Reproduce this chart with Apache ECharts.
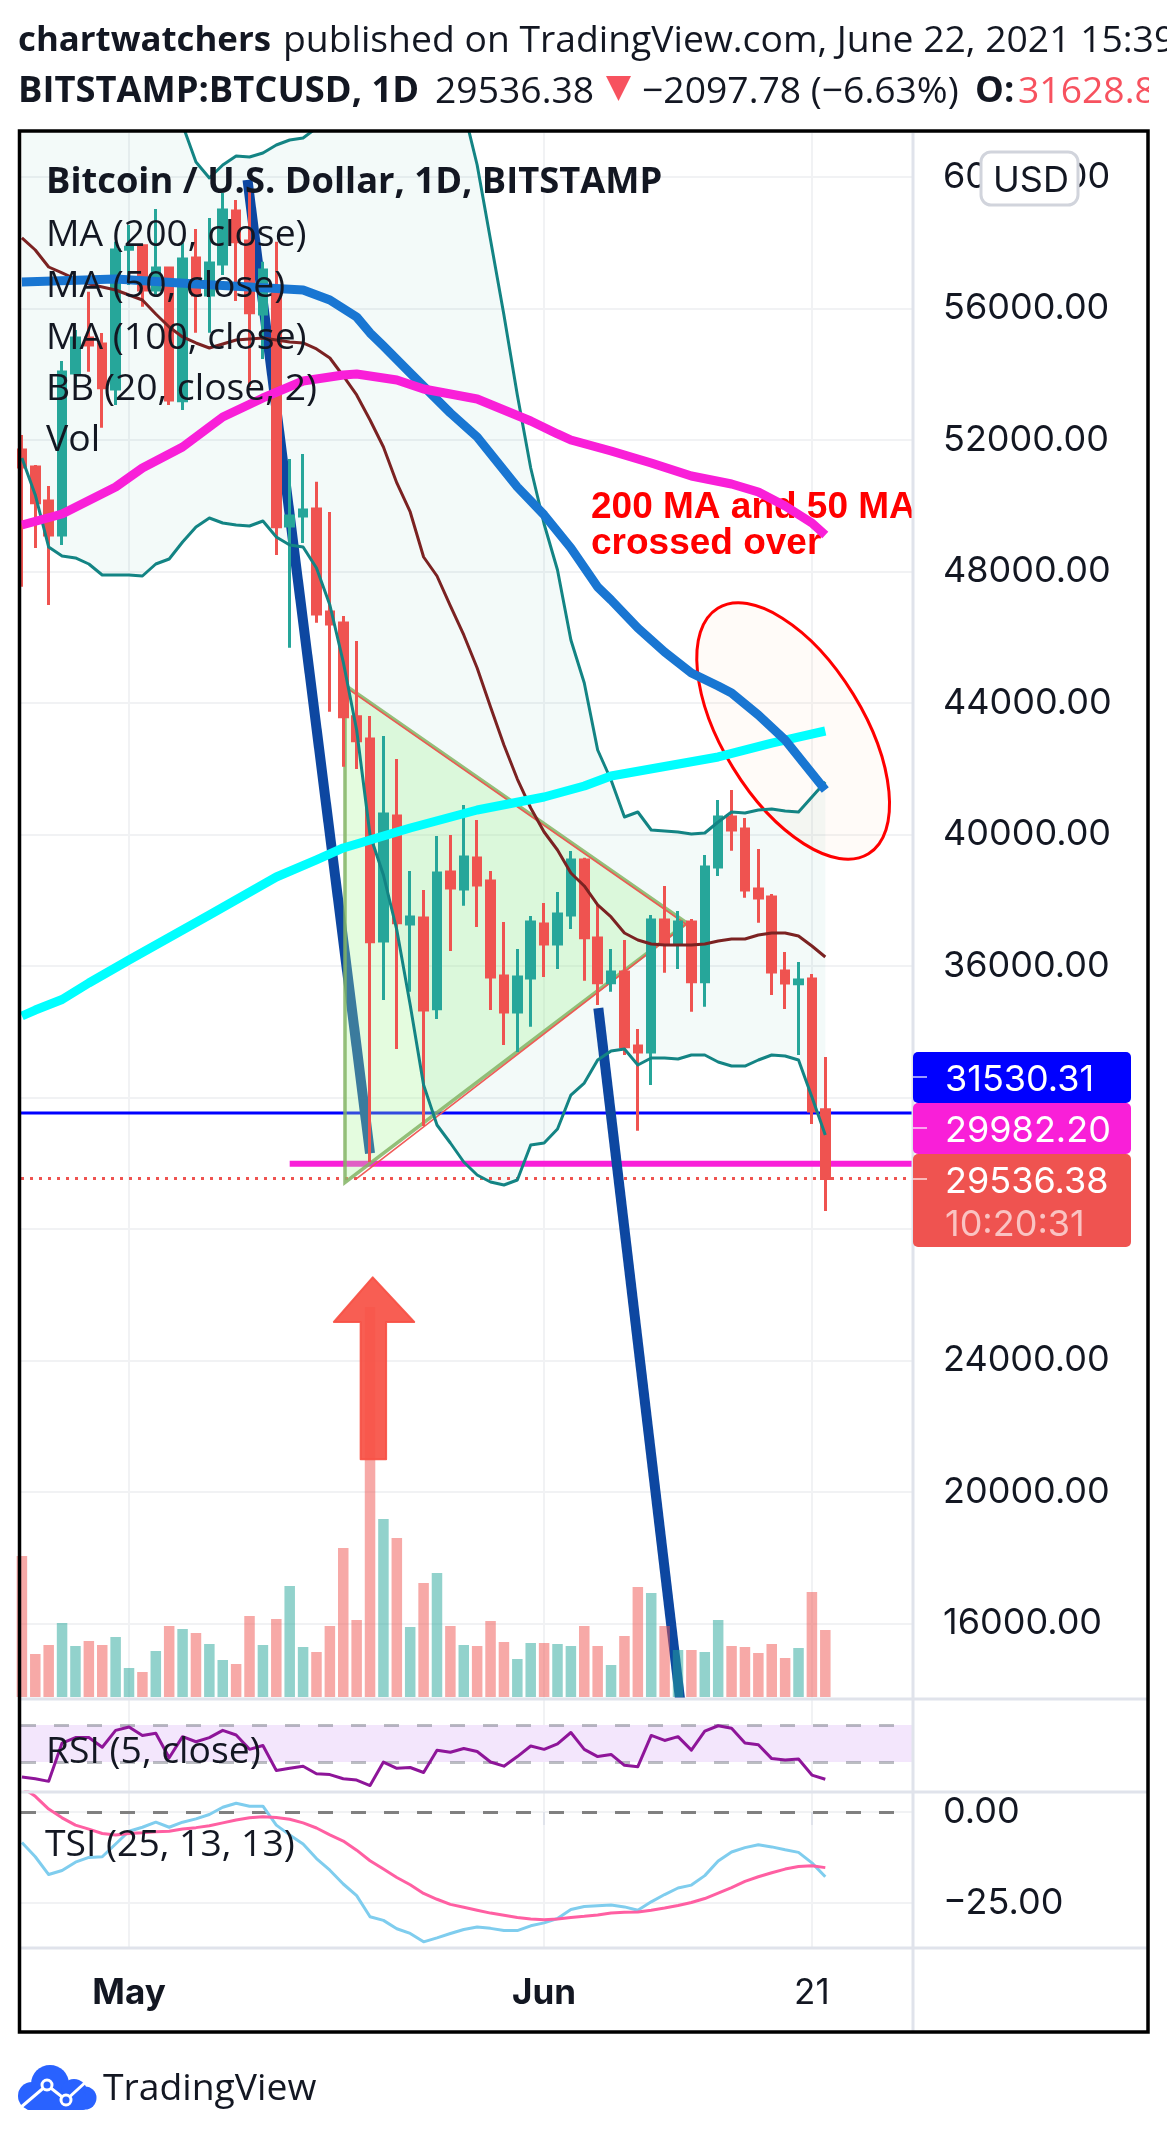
<!DOCTYPE html>
<html>
<head>
<meta charset="utf-8">
<style>html,body{margin:0;padding:0;background:#fff}#c{width:1167px;height:2142px}</style>
<script src="https://cdn.jsdelivr.net/npm/echarts@6/dist/echarts.min.js"></script>
</head>
<body>
<div id="c"></div>
<script>
// Trading days are numbered from Apr 23 2021 (day 0) to Jun 22 2021 (day 60)
const xTickDays = [8, 39, 59];
const xTickLabels = {8: '{b|May}', 39: '{b|Jun}', 59: '21'};
const priceTicks = [16000,20000,24000,28000,32000,36000,40000,44000,48000,52000,56000,60000];
const tsiTicks = [0, -25];

const opens = [51696,51179,50145,49110,54038,55103,54920,53551,57801,57910,
  56563,57232,53196,57536,56411,57354,58966,58053,55833,56593,
  49384,49688,49901,46768,46434,43584,42905,36761,40563,37278,
  37460,34701,38860,38342,39285,38586,35696,34601,35635,37278,
  36669,37552,39225,36852,35492,35818,33567,33384,37399,36700,
  37339,35523,39012,40532,40167,38342,38099,35848,35462,35605,31628.8];
const closes = [51179,50093,49110,54068,55103,54890,53591,57779,57862,56563,
  57232,53217,57506,56411,57384,58996,58032,55872,57171,49363,
  49688,49871,46707,46403,43584,42853,36739,40624,37317,37491,
  34662,38829,38373,39316,38464,35666,34601,35666,37339,36669,
  37582,39225,36861,35492,35818,33546,33384,37399,36669,37339,
  35523,39012,40532,40137,38312,38069,35818,35483,35574,31590,29536.38];
const lows = [47538,48715,46981,48806,53612,54078,52374,53065,56715,56055,
  56359,53065,52913,55264,55264,57019,56228,53621,54464,48502,
  45682,48867,46443,43736,42063,41993,30038,34966,33476,35219,
  31133,34388,36456,37834,37187,34662,33597,33384,34154,35666,
  35909,37126,35553,34814,35219,33293,30990,32380,35796,35909,
  34610,34762,38738,39507,38078,37317,35118,34692,33293,31194,28548];
const highs = [52152,51240,50601,54403,55346,56511,55255,58032,58540,57932,
  59027,57272,57992,58418,58753,59513,59300,59605,57424,58032,
  51422,51574,50732,49810,46647,45886,43605,42996,42297,38890,
  38312,39955,39985,40898,40441,38890,37339,36517,37521,37917,
  38251,39498,39294,37856,36517,36791,34084,37552,38434,37673,
  37430,39377,41050,41354,40502,39559,38190,36426,36122,35757,33232];
const volumes = [141,43,52,74,51,56,52,60,29,25,
  46,71,68,64,53,37,33,81,52,78,
  111,50,45,71,149,77,390,178,159,70,
  114,124,71,52,51,76,55,38,54,54,
  53,51,71,51,32,61,110,104,71,47,
  47,45,77,51,50,44,53,39,49,105,67];

const bbUpper = [62900,63200,63500,63700,63800,63700,63500,63300,63000,62700,
  62300,61900,61582,60456,59970,60365,60639,60608,60730,60973,
  61125,61186,61490,62400,63300,64000,64300,64400,64300,64100,
  63900,63500,62900,62038,60365,58084,55802,53369,51148,49445,
  48046,45916,44609,42570,41658,40532,40685,40137,40107,40076,
  40015,40046,40380,40685,40654,40745,40776,40715,40685,41141,41597];
const bbBasis = [58145,57779,57262,57080,56897,56745,56654,56563,56411,56259,
  55833,55437,55133,54951,54799,54920,55042,55072,55103,55042,
  54981,54951,54768,54494,53947,53369,52608,51787,50692,49810,
  48441,47863,46951,46069,45065,43878,42723,41688,40806,40076,
  39529,38829,38434,37856,37491,37004,36791,36669,36639,36639,
  36639,36669,36761,36821,36821,36943,37004,37004,36913,36609,36274];
const bbLower = [51453,50327,48745,48472,48411,48228,47894,47894,47894,47863,
  48228,48380,48897,49354,49627,49475,49415,49384,49536,49050,
  48806,48745,48107,46981,45247,43179,39985,38768,37095,34814,
  32380,31164,30616,30038,29643,29430,29339,29491,30555,30616,
  31042,32076,32441,33141,33415,33476,32989,33202,33202,33171,
  33293,33293,33080,32958,32958,33141,33293,33263,33141,32015,30860];

const ma200Days = [0,1,3,5,8,10,14,19,22,24,29,34,39,42,44,48,52,56,60];
const ma200Values = [34479,34660,34980,35483,36183,36639,37552,38707,39230,39590,40198,40745,41141,41475,41780,42070,42358,42780,43148];
const ma50Days = [0,7,13,21,23,25,26,27,29,32,34,37,39,41,43,44,46,48,50,52,53,55,57,60];
const ma50Values = [56806,56897,56745,56563,56259,55741,55255,54859,54038,52821,52091,50570,49719,48715,47529,47133,46281,45551,44913,44517,44304,43635,42875,41354];
const ma100Days = [0,3,7,9,12,15,18,21,24,25,28,30,34,38,40,41,44,47,50,53,55,57,59,60];
const ma100Values = [49415,49749,50570,51148,51787,52700,53278,53795,53977,54008,53825,53551,53247,52578,52183,52000,51665,51300,50905,50662,50418,49992,49475,49110];

const rsiValues = [13.7,11.9,9.1,50.5,56.4,56.4,46,64.2,67.8,58.7,
  61,34.6,57.4,51.9,56.4,64.2,59.2,43.7,47.8,20.9,
  23.2,25.5,17.3,16.4,11.9,10.5,4.6,30,23.2,24.1,
  18.7,42.8,40.5,44.6,41.4,30,25.5,35.9,47.3,43.7,
  49.6,61.9,43.7,35.9,38.2,26.4,25,58.7,53.3,57.4,
  42.8,63.3,69.2,66.5,50.5,48.7,33.7,32.3,33.2,15.9,11.4];
const tsiValues = [-8.4,-12.3,-17.2,-16.1,-13.8,-12.5,-12.3,-8.8,-5.3,-4.2,
  -2.8,-4.2,-2.8,-1.9,-0.7,1.3,2.4,1.6,1.6,-3.6,
  -6.3,-8.8,-12.8,-16,-19.8,-23,-28.8,-29.8,-32.1,-33.4,
  -35.7,-34.6,-33.4,-32.3,-31.6,-32,-32.6,-32.6,-31.3,-30.5,
  -29.3,-26.8,-26,-25.8,-25.6,-26.1,-27,-24.7,-22.7,-20.9,
  -20.1,-17.5,-13.5,-11,-9.8,-9,-9.6,-10.4,-11.1,-14,-17.8];
const tsiSignal = [6.8,4.3,0.8,-1.6,-3.6,-4.7,-5.9,-6.3,-5.9,-5.7,
  -5.4,-5.3,-4.7,-4.3,-3.8,-3,-2.2,-1.6,-1.3,-1.5,
  -2,-3,-4.4,-6.3,-8,-10.5,-13.4,-15.7,-18,-20,
  -22.4,-24,-25.4,-26.2,-27,-27.8,-28.4,-29,-29.4,-29.6,
  -29.4,-29,-28.7,-28.3,-27.8,-27.6,-27.5,-27,-26.4,-25.7,
  -24.9,-23.8,-22.3,-20.8,-19.1,-17.8,-16.7,-15.7,-15,-14.8,-15.3];

// price lines and drawings, in [day, price]
const blueLevel = 31530.31, magentaLevel = 29982.20, lastPrice = 29536.38;
const dayMin = -0.067, dayMax = 66.55;
const magentaStartDay = 20;
const trendOne = [[16.85, 59910], [26, 30300]];
const trendTwo = [[43.05, 34720], [49.15, 13700]];
const triangle = [[24.13, 29415], [24.13, 44548], [49.67, 37308]];
const triangleRedEdge = [[24.35, 44430], [49.6, 37270], [24.9, 29500]];
const arrowPoints = [[26.2,26530],[29.3,25171],[27.2,25171],[27.2,21000],[25.3,21000],[25.3,25171],[23.3,25171]];
const ellipseCentre = [57.6, 43148];
const noteLines = [['200 MA and 50 MA', 42.5, 49930], ['crossed over', 42.5, 48840]];

const days = opens.map((_, i) => i);
const candleData = days.map(i => [i, opens[i], closes[i], lows[i], highs[i]]);
const zip = (xs, ys) => xs.map((x, i) => [x, ys[i]]);
const daily = ys => zip(days, ys);
const UP = '#26a69a', DOWN = '#ef5350', GRID = '#f1f2f4', AXIS = '#e0e3eb', INK = '#131722';
const UI = '"Open Sans","Noto Sans",sans-serif';
const NUM = 'Inter,Roboto,sans-serif';
const REG = '37.3px ' + UI, BOLD = 'bold 36.3px ' + UI, FIG = '36px ' + NUM;

const lineSeries = (name, xI, yI, data, color, width, z, extra) => Object.assign({
  name, type: 'line', xAxisIndex: xI, yAxisIndex: yI, data, showSymbol: false, symbol: 'none',
  lineStyle: {color, width, join: 'round', cap: 'butt'}, z, silent: true, clip: true
}, extra || {});
const customSeries = (name, z, renderItem) => ({
  name, type: 'custom', xAxisIndex: 0, yAxisIndex: 0, coordinateSystem: 'cartesian2d',
  data: [[0, 40000]], clip: true, silent: true, z, renderItem
});
const xBase = (grid, withLabels) => ({
  type: 'value', gridIndex: grid, min: dayMin, max: dayMax,
  axisLine: {show: false},
  axisTick: {show: withLabels, customValues: xTickDays, length: 13, lineStyle: {color: AXIS, width: 2}},
  axisLabel: withLabels ? {
    show: true, customValues: xTickDays, margin: 28, color: INK, fontFamily: NUM, fontSize: 35,
    formatter: v => xTickLabels[v], rich: {b: {fontWeight: 'bold', fontFamily: NUM, fontSize: 35, color: INK}}
  } : {show: false},
  splitLine: {show: true, lineStyle: {color: GRID, width: 2}}
});
const textEl = (text, x, y, font, fill) => ({
  type: 'text', z: 200, silent: true,
  style: {text, x, y: y + 3, font, fill: fill || INK, verticalAlign: 'middle', align: 'left'}
});
const box = (x, y, w, h, fill, r, z) => ({type: 'rect', z: z || 190, silent: true,
  shape: {x, y, width: w, height: h, r: r || 0}, style: {fill}});
const hline = (x1, x2, y, color, w, z) => ({type: 'line', z: z || 150, silent: true,
  shape: {x1, y1: y, x2, y2: y}, style: {stroke: color, lineWidth: w}});

const chart = echarts.init(document.getElementById('c'), null, {renderer: 'canvas', width: 1167, height: 2142});
chart.setOption({
  animation: false,
  backgroundColor: '#ffffff',
  grid: [
    {left: 21, width: 892, top: 133, height: 1566},
    {left: 21, width: 892, top: 1297, height: 400},
    {left: 21, width: 892, top: 1699, height: 93},
    {left: 21, width: 892, top: 1792, height: 156}
  ],
  xAxis: [xBase(0, false), Object.assign(xBase(1, false), {splitLine: {show: false}}), xBase(2, false), xBase(3, true)],
  yAxis: [
    {type: 'value', gridIndex: 0, position: 'right', min: 13704, max: 61338,
      axisLine: {show: false},
      axisTick: {show: true, customValues: priceTicks, length: 14, lineStyle: {color: GRID, width: 2}},
      axisLabel: {show: true, customValues: priceTicks, margin: 30, color: INK, fontFamily: NUM, fontSize: 36,
        padding: [6, 0, 0, 0], formatter: v => v.toFixed(2)},
      splitLine: {show: true, lineStyle: {color: GRID, width: 2}}},
    {type: 'value', gridIndex: 1, min: 0, max: 400, show: false},
    {type: 'value', gridIndex: 2, min: -2.4, max: 98.1, show: false},
    {type: 'value', gridIndex: 3, position: 'right', min: -37.4, max: 5.5,
      axisLine: {show: false},
      axisTick: {show: true, customValues: tsiTicks, length: 14, lineStyle: {color: GRID, width: 2}},
      axisLabel: {show: true, customValues: tsiTicks, margin: 30, color: INK, fontFamily: NUM, fontSize: 36,
        padding: [6, 0, 0, 0], formatter: v => v.toFixed(2).replace('-', '\u2212')},
      splitLine: {show: true, lineStyle: {color: GRID, width: 2}}}
  ],
  series: [
    customSeries('BB area', 1, (p, api) => {
      const pts = days.map(i => api.coord([i, bbUpper[i]]))
        .concat(days.slice().reverse().map(i => api.coord([i, bbLower[i]])));
      return {type: 'polygon', shape: {points: pts}, style: {fill: 'rgba(38,166,154,0.055)'}};
    }),
    lineSeries('Level blue', 0, 0, [[dayMin, blueLevel], [dayMax, blueLevel]], '#0000ff', 3, 2),
    lineSeries('Level magenta', 0, 0, [[magentaStartDay, magentaLevel], [dayMax, magentaLevel]], '#f91fd8', 6, 2),
    lineSeries('Last price', 0, 0, [[dayMin, lastPrice], [dayMax, lastPrice]], DOWN, 3, 2,
      {lineStyle: {color: DOWN, width: 3, type: [3, 6]}}),
    lineSeries('Trend one', 0, 0, trendOne, '#0d47a1', 10, 2),
    lineSeries('Trend two', 0, 0, trendTwo, '#0d47a1', 10, 2),
    customSeries('Ellipse', 3, (p, api) => {
      const c = api.coord(ellipseCentre);
      return {type: 'ellipse', x: c[0], y: c[1], rotation: -1.02,
        shape: {cx: 0, cy: 0, rx: 144, ry: 70.5},
        style: {fill: 'rgba(255,200,160,0.08)', stroke: '#ff0000', lineWidth: 3}};
    }),
    customSeries('Triangle', 3, (p, api) => ({type: 'group', children: [
      {type: 'polygon', shape: {points: triangle.map(q => api.coord(q))},
        style: {fill: 'rgba(165,245,150,0.3)', stroke: 'rgba(130,180,100,0.85)', lineWidth: 3.5}},
      {type: 'polyline', shape: {points: triangleRedEdge.map(q => api.coord(q))},
        style: {fill: null, stroke: 'rgba(239,83,80,0.95)', lineWidth: 1.6}}
    ]})),
    {name: 'Vol', type: 'bar', xAxisIndex: 1, yAxisIndex: 1, barWidth: 10.5, z: 4, silent: true,
      data: days.map(i => ({value: [i, volumes[i]],
        itemStyle: {color: closes[i] >= opens[i] ? 'rgba(38,166,154,0.5)' : 'rgba(239,83,80,0.5)'}}))},
    {name: 'BTCUSD', type: 'candlestick', xAxisIndex: 0, yAxisIndex: 0, barWidth: 8, z: 5, silent: true,
      data: candleData,
      itemStyle: {color: UP, color0: DOWN, borderColor: UP, borderColor0: DOWN, borderColorDoji: UP, borderWidth: 3}},
    customSeries('Note', 6, (p, api) => ({type: 'group', children: noteLines.map(n => {
      const c = api.coord([n[1], n[2]]);
      return {type: 'text', x: c[0], y: c[1],
        style: {text: n[0], fill: '#ff0000', font: 'bold 37px "Liberation Sans"', verticalAlign: 'middle', align: 'left'}};
    })})),
    lineSeries('BB upper', 0, 0, daily(bbUpper), '#138484', 3, 6),
    lineSeries('BB lower', 0, 0, daily(bbLower), '#138484', 3, 6),
    lineSeries('BB basis', 0, 0, daily(bbBasis), '#7b2222', 3, 6),
    lineSeries('MA 200', 0, 0, zip(ma200Days, ma200Values), '#00ffff', 9, 7),
    lineSeries('MA 50', 0, 0, zip(ma50Days, ma50Values), '#1976d2', 9, 7),
    lineSeries('MA 100', 0, 0, zip(ma100Days, ma100Values), '#f91fd8', 9, 7),
    customSeries('Arrow', 8, (p, api) => ({type: 'polygon', shape: {points: arrowPoints.map(q => api.coord(q))},
      style: {fill: 'rgba(247,82,70,0.93)', stroke: 'rgba(247,82,70,0.93)', lineWidth: 2, lineJoin: 'round'}})),
    lineSeries('RSI', 2, 2, daily(rsiValues), '#8e1599', 3, 6, {
      markArea: {silent: true, itemStyle: {color: '#f3e6fc'}, data: [[{yAxis: 70}, {yAxis: 30}]]},
      markLine: {silent: true, symbol: 'none', label: {show: false},
        lineStyle: {color: 'rgba(120,123,134,0.5)', width: 3, type: [15, 18]}, data: [{yAxis: 70}, {yAxis: 30}]}
    }),
    lineSeries('TSI', 3, 3, daily(tsiValues), '#7fcdee', 3, 6, {
      markLine: {silent: true, symbol: 'none', label: {show: false},
        lineStyle: {color: '#808080', width: 3, type: [15, 18]}, data: [{yAxis: 0}]}
    }),
    lineSeries('TSI signal', 3, 3, daily(tsiSignal), '#ff5fa2', 3, 7)
  ],
  graphic: {elements: [
    // frame and pane separators
    hline(21, 1147, 1699, AXIS, 3), hline(21, 1147, 1792, AXIS, 3), hline(21, 1147, 1948, AXIS, 3),
    {type: 'line', z: 150, silent: true, shape: {x1: 913, y1: 133, x2: 913, y2: 2031}, style: {stroke: AXIS, lineWidth: 3}},
    {type: 'rect', z: 180, silent: true, shape: {x: 19.5, y: 131, width: 1128.5, height: 1901}, style: {fill: null, stroke: '#000', lineWidth: 3.5}},
    // header
    textEl('chartwatchers', 18, 38, 'bold 34.8px ' + UI),
    textEl('published on TradingView.com, June 22, 2021 15:39 UTC', 283, 38, REG),
    textEl('BITSTAMP:BTCUSD, 1D', 18, 89, BOLD),
    textEl('29536.38', 435, 89, REG),
    {type: 'polygon', z: 200, silent: true, shape: {points: [[606, 76], [631, 76], [618.5, 101]]}, style: {fill: '#f7525f'}},
    textEl('\u22122097.78 (\u22126.63%)', 642, 89, REG),
    textEl('O:', 975, 89, BOLD),
    textEl('31628.85', 1018, 89, REG, '#f7525f'),
    box(1149, 60, 18, 60, '#fff', 0, 210),
    // legends
    textEl('Bitcoin / U.S. Dollar, 1D, BITSTAMP', 46, 180, BOLD),
    textEl('MA (200, close)', 46, 232, REG),
    textEl('MA (50, close)', 46, 283, REG),
    textEl('MA (100, close)', 46, 335, REG),
    textEl('BB (20, close, 2)', 46, 386, REG),
    textEl('Vol', 46, 437, REG),
    textEl('RSI (5, close)', 46, 1749, REG),
    textEl('TSI (25, 13, 13)', 45, 1842, REG),
    // USD badge
    {type: 'rect', z: 190, silent: true, shape: {x: 981, y: 152, width: 97, height: 53, r: 10},
      style: {fill: '#fff', stroke: '#d1d4dc', lineWidth: 3}},
    textEl('USD', 993, 178, FIG),
    // price badges
    box(913, 1052, 218, 51, '#0000ff', 5),
    box(913, 1103, 218, 51, '#f91fd8', 5),
    box(913, 1154, 218, 93, '#ef5350', 5),
    hline(913, 927, 1077, 'rgba(255,255,255,0.6)', 2, 195),
    hline(913, 927, 1128, 'rgba(255,255,255,0.6)', 2, 195),
    hline(913, 927, 1179, 'rgba(255,255,255,0.6)', 2, 195),
    textEl('31530.31', 945, 1077, FIG, '#fff'),
    textEl('29982.20', 945, 1128, FIG, '#fff'),
    textEl('29536.38', 945, 1179, FIG, '#fff'),
    textEl('10:20:31', 945, 1222, FIG, 'rgba(255,255,255,0.65)'),
    // TradingView mark
    {type: 'group', z: 200, silent: true, children: [
      {type: 'circle', shape: {cx: 32, cy: 2096, r: 14}, style: {fill: '#2962ff'}},
      {type: 'circle', shape: {cx: 50, cy: 2084, r: 19}, style: {fill: '#2962ff'}},
      {type: 'circle', shape: {cx: 74, cy: 2092, r: 13}, style: {fill: '#2962ff'}},
      {type: 'circle', shape: {cx: 85, cy: 2098, r: 11.5}, style: {fill: '#2962ff'}},
      {type: 'rect', shape: {x: 26, y: 2092, width: 60, height: 18, r: 3}, style: {fill: '#2962ff'}},
      {type: 'polyline', shape: {points: [[20, 2108], [47, 2085], [66, 2100], [88, 2080]]}, style: {fill: null, stroke: '#fff', lineWidth: 3}},
      {type: 'circle', shape: {cx: 47, cy: 2085, r: 5}, style: {fill: '#2962ff', stroke: '#fff', lineWidth: 3}},
      {type: 'circle', shape: {cx: 66, cy: 2100, r: 5}, style: {fill: '#2962ff', stroke: '#fff', lineWidth: 3}}
    ]},
    textEl('TradingView', 103, 2086, REG)
  ]}
});
</script>
</body>
</html>
